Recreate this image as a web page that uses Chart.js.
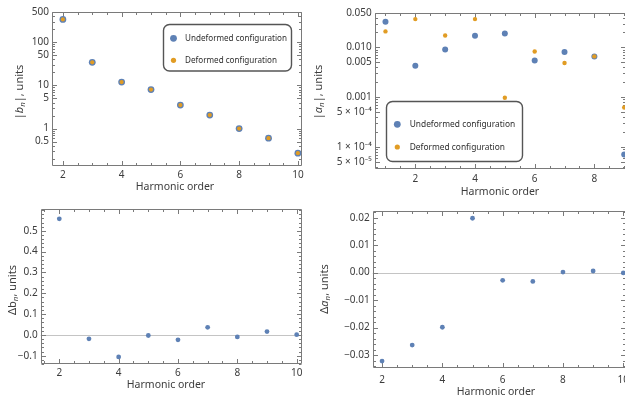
<!DOCTYPE html>
<html><head><meta charset="utf-8">
<script src="https://cdn.jsdelivr.net/npm/chart.js@4/dist/chart.umd.min.js"></script>
<style>
html,body{margin:0;padding:0;background:#fff;overflow:hidden;width:625px;height:398px;position:relative;}
.p{position:absolute;}
canvas{display:block;}
</style></head><body>
<div class="p" style="left:0;top:0"><canvas id="c1" width="312" height="200"></canvas></div>
<div class="p" style="left:312px;top:0"><canvas id="c2" width="322" height="200"></canvas></div>
<div class="p" style="left:0;top:200px"><canvas id="c3" width="312" height="198"></canvas></div>
<div class="p" style="left:312px;top:200px"><canvas id="c4" width="328" height="198"></canvas></div>
<script>
// ---------------- data ----------------
const harmonicsB = [2, 3, 4, 5, 6, 7, 8, 9, 10];
const bnUndeformed = [337, 34.2, 11.9, 8.0, 3.5, 2.05, 1.0, 0.6, 0.27];
const bnDeformed   = [337, 34.2, 11.9, 8.0, 3.5, 2.05, 1.0, 0.6, 0.27];
const harmonicsA = [1, 2, 3, 4, 5, 6, 7, 8, 9];
const anUndeformed = [0.0329, 0.00428, 0.0091, 0.0172, 0.0191, 0.00547, 0.0081, 0.0066, 0.00007];
const anDeformed   = [0.021, 0.0372, 0.0174, 0.0372, 0.00097, 0.0083, 0.00485, 0.0066, 0.00062];
const deltaB = [0.558, -0.019, -0.106, -0.003, -0.024, 0.036, -0.010, 0.016, 0.001];
const deltaA = [-0.0322, -0.0264, -0.0199, 0.0198, -0.0028, -0.0032, 0.0002, 0.0006, -0.0001];
const xTicks = [2, 4, 6, 8, 10];
const bnTicks = [0.5, 1, 5, 10, 50, 100, 500];
const bnTickLabels = ['0.5', '1', '5', '10', '50', '100', '500'];
const anTicks = [5e-5, 1e-4, 5e-4, 0.001, 0.005, 0.01, 0.05];
const anTickLabels = ['5 × 10⁻⁵', '1 × 10⁻⁴', '5 × 10⁻⁴', '0.001', '0.005', '0.010', '0.050'];
const dbTicks = [-0.1, 0, 0.1, 0.2, 0.3, 0.4, 0.5];
const dbTickLabels = ['−0.1', '0.0', '0.1', '0.2', '0.3', '0.4', '0.5'];
const daTicks = [-0.03, -0.02, -0.01, 0, 0.01, 0.02];
const daTickLabels = ['−0.03', '−0.02', '−0.01', '0.00', '0.01', '0.02'];
const legendLabels = ['Undeformed configuration', 'Deformed configuration'];
const xTitle = 'Harmonic order';

// ---------------- styles ----------------
const BLUE = '#5E81B5', ORANGE = '#E19C24';
const FONT = '"Noto Sans", "DejaVu Sans", sans-serif';
const TXT = '#3c3c3c';
const FRAME = '#7a7a7a';

function pts(xs, ys) { return xs.map((x, i) => ({x: x, y: ys[i]})); }
function range(a, b, s) { const r = []; for (let v = a; v <= b + 1e-9; v += s) r.push(+v.toFixed(6)); return r; }
function logMinors(lo, hi) {
  const r = [];
  for (let e = -6; e <= 4; e++) for (let k = 1; k <= 9; k++) { const v = k * Math.pow(10, e); if (v >= lo && v <= hi) r.push(v); }
  return r;
}

function drawRich(ctx, segs, size) {
  let w = 0;
  segs.forEach(s => { ctx.font = (s.it ? 'italic ' : '') + (s.sub ? size * 0.72 : size) + 'px ' + FONT; s.w = ctx.measureText(s.t).width; w += s.w; });
  let x = -w / 2;
  segs.forEach(s => { ctx.font = (s.it ? 'italic ' : '') + (s.sub ? size * 0.72 : size) + 'px ' + FONT; ctx.fillText(s.t, x, s.sub ? size * 0.28 : 0); x += s.w; });
}

const framePlugin = {
  id: 'frame',
  beforeDatasetsDraw(chart, args, o) {
    const {ctx, chartArea: a, scales: {x, y}} = chart;
    ctx.save();
    if (o.zeroLine) {
      const py = Math.round(y.getPixelForValue(0)) + 0.5;
      ctx.strokeStyle = '#c4c4c4'; ctx.lineWidth = 1;
      ctx.beginPath(); ctx.moveTo(a.left, py); ctx.lineTo(a.right, py); ctx.stroke();
    }
    ctx.strokeStyle = FRAME; ctx.lineWidth = 1;
    const L = Math.round(a.left) + 0.5, R = Math.round(a.right) - 0.5, T = Math.round(a.top) + 0.5, B = Math.round(a.bottom) - 0.5;
    ctx.beginPath();
    ctx.moveTo(L, T); ctx.lineTo(R, T); ctx.lineTo(R, B); ctx.lineTo(L, B); ctx.closePath(); ctx.stroke();
    ctx.beginPath();
    const xt = (v, len) => { const px = Math.round(x.getPixelForValue(v)) + 0.5; if (px < a.left || px > a.right) return; ctx.moveTo(px, B); ctx.lineTo(px, B - len); ctx.moveTo(px, T); ctx.lineTo(px, T + len); };
    const yt = (v, len) => { const py = Math.round(y.getPixelForValue(v)) + 0.5; if (py < a.top - 0.6 || py > a.bottom + 0.6) return; ctx.moveTo(L, py); ctx.lineTo(L + len, py); ctx.moveTo(R, py); ctx.lineTo(R - len, py); };
    o.xMinor.forEach(v => xt(v, 2.5)); o.xMajor.forEach(v => xt(v, 4.5));
    o.yMinor.forEach(v => yt(v, 2.5)); o.yMajor.forEach(v => yt(v, 4.5));
    ctx.stroke();
    ctx.restore();
  },
  afterDraw(chart, args, o) {
    const ctx = chart.ctx;
    ctx.save();
    ctx.fillStyle = TXT; ctx.textBaseline = 'middle'; ctx.textAlign = 'left';
    // x title
    ctx.save(); ctx.translate(o.xTitlePos[0], o.xTitlePos[1]);
    drawRich(ctx, [{t: xTitle}], 10.5); ctx.restore();
    // y title
    ctx.save(); ctx.translate(o.yTitlePos[0], o.yTitlePos[1]); ctx.rotate(-Math.PI / 2);
    drawRich(ctx, o.yTitle, 11); ctx.restore();
    // legend
    if (o.legend) {
      const g = o.legend;
      ctx.strokeStyle = '#555'; ctx.lineWidth = 1.4;
      ctx.beginPath(); ctx.roundRect(g.box[0], g.box[1], g.box[2], g.box[3], 6); ctx.stroke();
      const cols = [BLUE, ORANGE], rad = [3.4, 2.6];
      legendLabels.forEach((t, i) => {
        ctx.fillStyle = cols[i];
        ctx.beginPath(); ctx.arc(g.dotX, g.rows[i], rad[i], 0, Math.PI * 2); ctx.fill();
        ctx.fillStyle = '#2e2e2e'; ctx.font = g.fs + 'px ' + FONT;
        ctx.fillText(t, g.textX, g.rows[i] + 0.5);
      });
    }
    ctx.restore();
  }
};

function makeChart(id, o) {
  return new Chart(document.getElementById(id), {
    type: 'scatter',
    data: {datasets: o.datasets},
    options: {
      responsive: false, animation: false, devicePixelRatio: 1,
      layout: {padding: o.pad},
      plugins: {legend: {display: false}, tooltip: {enabled: false}, frame: o.frame},
      scales: {
        x: {
          type: 'linear', min: o.xmin, max: o.xmax,
          grid: {display: false, drawTicks: false}, border: {display: false},
          afterFit: s => { s.height = o.xh; },
          afterBuildTicks: s => { s.ticks = xTicks.filter(v => v >= o.xmin && v <= o.xmax).map(v => ({value: v})); },
          ticks: {font: {family: FONT, size: 10}, color: TXT, padding: o.xpad, maxRotation: 0, autoSkip: false, callback: v => String(v)}
        },
        y: {
          type: o.ytype, min: o.ymin, max: o.ymax,
          grid: {display: false, drawTicks: false}, border: {display: false},
          afterFit: s => { s.width = o.yw; },
          afterBuildTicks: s => { s.ticks = o.yticks.map(v => ({value: v})); },
          ticks: {font: {family: FONT, size: 10}, color: TXT, padding: 3, autoSkip: false, callback: (v, i) => o.ylabels[i]}
        }
      }
    },
    plugins: [framePlugin]
  });
}

// Panel 1: |b_n|
makeChart('c1', {
  pad: {left: 0, top: 12, right: 10, bottom: 0}, xh: 34, yw: 52, xpad: 3,
  xmin: 1.63, xmax: 10.14, ytype: 'logarithmic', ymin: 0.136, ymax: 500,
  yticks: bnTicks, ylabels: bnTickLabels,
  datasets: [
    {data: pts(harmonicsB, bnUndeformed), backgroundColor: BLUE, borderWidth: 0, pointRadius: 3.4, order: 2},
    {data: pts(harmonicsB, bnDeformed), backgroundColor: ORANGE, borderWidth: 0, pointRadius: 2.1, order: 1}
  ],
  frame: {
    xMajor: xTicks, xMinor: range(1.5, 10.5, 0.5), yMajor: bnTicks, yMinor: logMinors(0.1, 500),
    xTitlePos: [175, 187], yTitlePos: [20, 92],
    yTitle: [{t: '|'}, {t: 'b', it: true}, {t: 'n', it: true, sub: true}, {t: '|, units'}],
    legend: {box: [163.5, 24.5, 128, 46.5], dotX: 173.5, rows: [38.3, 60.3], textX: 185, fs: 8.1}
  }
});

// Panel 2: |a_n|
makeChart('c2', {
  pad: {left: 0, top: 12.7, right: 8, bottom: 0}, xh: 31.3, yw: 62.7, xpad: 4,
  xmin: 0.639, xmax: 9.06, ytype: 'logarithmic', ymin: 3.63e-5, ymax: 0.05,
  yticks: anTicks, ylabels: anTickLabels,
  datasets: [
    {data: pts(harmonicsA, anUndeformed), backgroundColor: BLUE, borderWidth: 0, pointRadius: 3, order: 2},
    {data: pts(harmonicsA, anDeformed), backgroundColor: ORANGE, borderWidth: 0, pointRadius: 2.2, order: 1}
  ],
  frame: {
    xMajor: xTicks, xMinor: range(0.5, 10, 0.5), yMajor: anTicks, yMinor: logMinors(3e-5, 0.05),
    xTitlePos: [188, 192], yTitlePos: [7, 92],
    yTitle: [{t: '|'}, {t: 'a', it: true}, {t: 'n', it: true, sub: true}, {t: '|, units'}],
    legend: {box: [74.5, 101.5, 136, 60], dotX: 85.3, rows: [124.3, 147], textX: 97.7, fs: 8.4}
  }
});

// Panel 3: Δb_n
makeChart('c3', {
  pad: {left: 0, top: 6, right: 9.7, bottom: 0}, xh: 33.7, yw: 40.7, xpad: 3,
  xmin: 1.373, xmax: 10.19, ytype: 'linear', ymin: -0.1415, ymax: 0.605,
  yticks: dbTicks, ylabels: dbTickLabels,
  datasets: [
    {data: pts(harmonicsB, deltaB), backgroundColor: BLUE, borderWidth: 0, pointRadius: 2.4}
  ],
  frame: {
    zeroLine: true,
    xMajor: xTicks, xMinor: range(1.5, 10.5, 0.5), yMajor: dbTicks, yMinor: range(-0.14, 0.6, 0.02),
    xTitlePos: [166, 185.5], yTitlePos: [13, 90],
    yTitle: [{t: 'Δb'}, {t: 'n', it: true, sub: true}, {t: ', units'}]
  }
});

// Panel 4: Δa_n
makeChart('c4', {
  pad: {left: 0, top: 11, right: 14, bottom: 0}, xh: 29.7, yw: 60.7, xpad: 6,
  xmin: 1.69, xmax: 10.09, ytype: 'linear', ymin: -0.03484, ymax: 0.02244,
  yticks: daTicks, ylabels: daTickLabels,
  datasets: [
    {data: pts(harmonicsB, deltaA), backgroundColor: BLUE, borderWidth: 0, pointRadius: 2.4}
  ],
  frame: {
    zeroLine: true,
    xMajor: xTicks, xMinor: range(1.5, 10.5, 0.5), yMajor: daTicks, yMinor: range(-0.034, 0.022, 0.002),
    xTitlePos: [184, 192.3], yTitlePos: [13, 89],
    yTitle: [{t: 'Δ'}, {t: 'a', it: true}, {t: 'n', it: true, sub: true}, {t: ', units'}]
  }
});
</script>
</body></html>
